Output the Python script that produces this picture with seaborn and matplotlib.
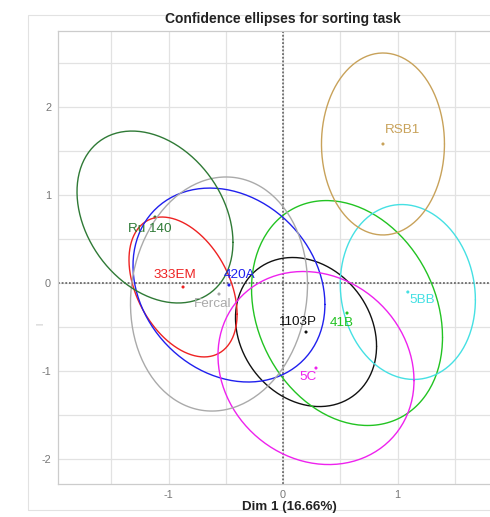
import numpy as np
import pandas as pd
import matplotlib.pyplot as plt
from matplotlib.patches import Rectangle
import seaborn as sns

# cultivars, positions on the first two dimensions and ellipse shape (half extents + correlation)
cultivars = ['1103P', '333EM', '41B', '420A', '5BB', '5C', 'Fercal', 'RSB1', 'Ru 140']
colors = ['#111111', '#ee2222', '#22c322', '#2020ee', '#45e0e3', '#ee22ee', '#aaaaaa', '#c8a25a', '#2f7a36']
dim1 = [0.201, -0.873, 0.559, -0.472, 1.090, 0.288, -0.559, 0.873, -1.118]
dim2 = [-0.557, -0.045, -0.341, -0.023, -0.102, -0.966, -0.125, 1.580, 0.750]
half_w = [0.616, 0.472, 0.834, 0.838, 0.590, 0.856, 0.773, 0.537, 0.681]
half_h = [0.847, 0.795, 1.278, 1.102, 0.994, 1.097, 1.330, 1.034, 0.977]
corr = [-0.19, -0.39, -0.215, -0.20, -0.09, -0.13, 0.08, 0.0, -0.295]

# label offsets from the point, in pixels
label_dx = [-9, -8, -5, 11, 14, -8, -6, 20, -5]
label_dy = [10, 12, -10, 10, -8, -9, -10, 14, -12]

xticks = [-1, 0, 1]
yticks = [-2, -1, 0, 1, 2]

pal = dict(zip(cultivars, colors))

# ellipse outlines
t = np.linspace(0, 2 * np.pi, 200)
rows = []
for c, x0, y0, hx, hy, r in zip(cultivars, dim1, dim2, half_w, half_h, corr):
    ex = x0 + hx * np.cos(t)
    ey = y0 + hy * (r * np.cos(t) + np.sqrt(1 - r ** 2) * np.sin(t))
    rows.append(pd.DataFrame({'x': ex, 'y': ey, 'cultivar': c}))
df_ell = pd.concat(rows, ignore_index=True)
df_pts = pd.DataFrame({'x': dim1, 'y': dim2, 'cultivar': cultivars})

sns.set_style('white')
plt.rcParams['font.family'] = ['Liberation Sans', 'DejaVu Sans']
plt.rcParams['axes.unicode_minus'] = False

fig = plt.figure(figsize=(4.9, 5.17), dpi=100)
ax = fig.add_axes([58 / 490, 33 / 517, 442 / 490, 453 / 517])

ax.set_xlim(-1.965, 1.895)
ax.set_ylim(-2.284, 2.864)

ax.set_xticks(xticks)
ax.set_yticks(yticks)
ax.set_xticks(np.arange(-1.5, 2.0, 0.5), minor=True)
ax.set_yticks(np.arange(-2.0, 3.0, 0.5), minor=True)
ax.grid(True, which='both', color='#e2e2e2', lw=0.9)
ax.set_axisbelow(True)
ax.tick_params(which='both', length=0, labelsize=7.8, labelcolor='#777777')
ax.tick_params(axis='x', pad=4)
ax.tick_params(axis='y', pad=5)
for s in ax.spines.values():
    s.set_color('#cccccc')
    s.set_linewidth(0.9)

ax.axhline(0, color='#555555', ls=(0, (1.2, 1.2)), lw=1.1, zorder=1)
ax.axvline(0, color='#555555', ls=(0, (1.2, 1.2)), lw=1.1, zorder=1)

sns.lineplot(data=df_ell, x='x', y='y', hue='cultivar', units='cultivar', palette=pal,
             sort=False, estimator=None, legend=False, lw=1.0, ax=ax)
sns.scatterplot(data=df_pts, x='x', y='y', hue='cultivar', palette=pal, s=5,
                linewidth=0, legend=False, ax=ax)

for c, x0, y0, dx, dy, col in zip(cultivars, dim1, dim2, label_dx, label_dy, colors):
    ax.annotate(c, (x0, y0), xytext=(dx, dy), textcoords='offset pixels',
                ha='center', va='center', fontsize=9.7, color=col)

ax.set_xlabel('')
ax.set_ylabel('')
fig.text(289 / 490, 1 - 507 / 517, 'Dim 1 (16.66%)', ha='center', va='center',
         fontsize=9.6, fontweight='bold', color='#222222')
fig.text(40 / 490, 1 - 324 / 517, '|', rotation=90, ha='center', va='center',
         fontsize=6, color='#aaaaaa')
fig.text(283 / 490, 1 - 19 / 517, 'Confidence ellipses for sorting task', ha='center', va='center',
         fontsize=10, fontweight='bold', color='#222222')

# faint outer frame
fig.add_artist(Rectangle((28 / 490, 1 - 510 / 517), 500 / 490, 495 / 517, fill=False,
                         edgecolor='#e2e2e2', lw=0.8, transform=fig.transFigure))

fig.savefig('out.png', dpi=100)
